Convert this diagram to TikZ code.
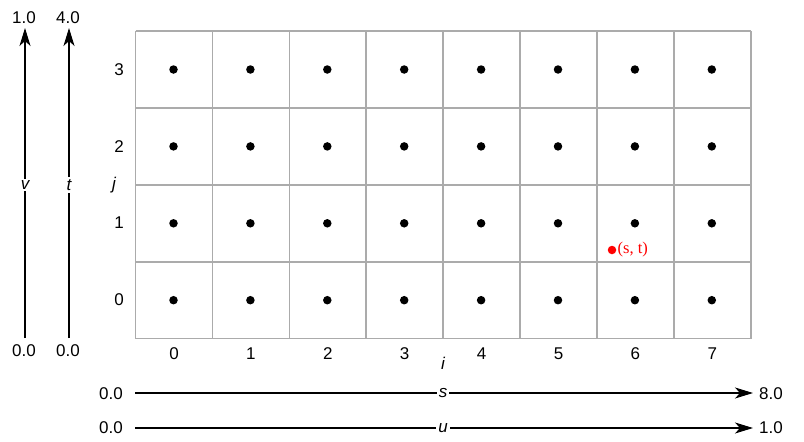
\documentclass[tikz,border=0pt]{standalone}
\usepackage{fontspec}
\setmainfont{Liberation Sans}
\newfontfamily\serifface{Liberation Serif}
\usetikzlibrary{arrows.meta}
\begin{document}
\begin{tikzpicture}[x=1pt,y=-1pt,
  lbl/.style={font=\fontsize{17}{19}\selectfont, inner sep=1pt},
  axlbl/.style={font=\fontsize{17}{19}\selectfont\itshape, fill=white, inner sep=2pt},
  gridln/.style={draw=black!33, line width=1.6pt},
  dot/.style={circle, fill=black, inner sep=0pt, minimum size=8.5pt},
  axis/.style={line width=1.1pt, -{Stealth[length=18pt,width=11pt,inset=5pt]}},
]
\useasboundingbox (0,0) rectangle (804,442);
% grid
\foreach \k in {0,...,8} {
  \draw[gridln] ({135.5+76.9*\k},31) -- ({135.5+76.9*\k},338.5);
}
\foreach \r in {0,...,4} {
  \draw[gridln] (135.5,{31+76.9*\r}) -- (750.7,{31+76.9*\r});
}
% dots
\foreach \i in {0,...,7} {
  \foreach \j in {0,...,3} {
    \node[dot] (d\i\j) at ({173.5+76.9*\i},{69.5+76.9*(3-\j)}) {};
  }
  \node[lbl] (c\i) at ({174+76.9*\i},354) {\i};
}
\foreach \j in {0,...,3} {
  \node[lbl] (r\j) at (119,{300-76.9*\j}) {\j};
}
\node[lbl, font=\fontsize{17}{19}\selectfont\itshape] (ilab) at (443,363) {i};
\node[lbl, font=\fontsize{17}{19}\selectfont\itshape] (jlab) at (114,185) {j};
% vertical axes
\node[lbl] (v0) at (24,351) {0.0};
\node[lbl] (v1) at (24,18) {1.0};
\node[lbl] (t0) at (68,351) {0.0};
\node[lbl] (t1) at (68,18) {4.0};
\coordinate (vb) at (25,338);
\coordinate (vt) at (25,28);
\coordinate (tb) at (69,338);
\coordinate (tt) at (69,28);
\draw[axis] (vb) -- (vt);
\draw[axis] (tb) -- (tt);
\node[axlbl] (vlab) at (25,185) {v};
\node[axlbl] (tlab) at (69,185) {t};
% horizontal axes
\node[lbl] (s0) at (111,394) {0.0};
\node[lbl] (s1) at (771,394) {8.0};
\node[lbl] (u0) at (111,428) {0.0};
\node[lbl] (u1) at (771,428) {1.0};
\coordinate (sl) at (135,393);
\coordinate (sr) at (753,393);
\coordinate (ul) at (135,428);
\coordinate (ur) at (753,428);
\draw[axis] (sl) -- (sr);
\draw[axis] (ul) -- (ur);
\node[axlbl] (slab) at (443,393) {s};
\node[axlbl] (ulab) at (443,428) {u};
% red sample point
\node[circle, fill=red, inner sep=0pt, minimum size=8.5pt] (pt) at (612,250) {};
\node[anchor=west, text=red, font=\serifface\fontsize{16.5}{18}\selectfont, inner sep=1pt] (ptlab) at (pt.east) {(s, t)};
\end{tikzpicture}
\end{document}
